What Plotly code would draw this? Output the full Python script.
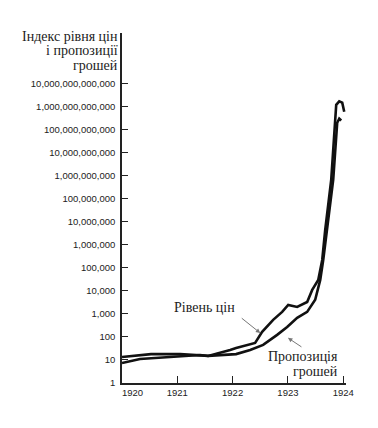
import plotly.graph_objects as go

# Price level index (Рівень цін)
price_years = [1920.0, 1920.525, 1921.05, 1921.557, 1921.955, 1922.063, 1922.407, 1922.534,
               1922.733, 1922.896, 1923.005, 1923.167, 1923.348, 1923.439, 1923.548, 1923.62,
               1923.674, 1923.783, 1923.873, 1923.928, 1923.982, 1924.018]
price_values = [13.5, 18, 18, 15, 27, 33, 55, 166, 550, 1230, 2450, 2000, 3300, 11000, 30000,
                2.2e5, 4.5e6, 6.8e8, 1.2e12, 1.7e12, 1.5e12, 6e11]

# Money supply index (Пропозиція грошей)
money_years = [1920.0, 1920.326, 1920.869, 1921.412, 1921.557, 1922.063, 1922.317, 1922.552,
               1922.805, 1922.986, 1923.167, 1923.348, 1923.493, 1923.584, 1923.638, 1923.71,
               1923.819, 1923.891, 1923.928, 1923.964]
money_values = [7.4, 11, 13.5, 16.5, 15, 18, 27, 45, 123, 270, 680, 1230, 4100, 30000, 2.2e5,
                4.5e6, 6.8e8, 2.0e11, 3.0e11, 2.5e11]

y_tickvals = [10 ** k for k in range(14)]
y_ticktext = [f"{v:,}" for v in y_tickvals]
x_tickvals = [1920, 1921, 1922, 1923, 1924]
x_ticktext = ["\u00a0" * 8 + "1920", "1921", "1922", "1923", "1924"]

title_lines = ["Індекс рівня цін", "і пропозиції", "грошей"]
price_label = "Рівень цін"
money_label_lines = ["Пропозиція", "грошей"]

serif = "Liberation Serif"
sans = "Liberation Sans, Arial, sans-serif"
ink = "#222222"

fig = go.Figure()
fig.add_trace(go.Scatter(x=price_years, y=price_values, mode="lines",
                         line=dict(color="#111111", width=2.6), showlegend=False))
fig.add_trace(go.Scatter(x=money_years, y=money_values, mode="lines",
                         line=dict(color="#111111", width=2.6), showlegend=False))

fig.update_layout(
    width=370, height=420,
    margin=dict(l=114, r=32, t=25, b=45),
    paper_bgcolor="white", plot_bgcolor="white",
    showlegend=False,
)
fig.update_xaxes(
    range=[1920, 1924.05], showgrid=False, zeroline=False,
    showline=True, linecolor=ink, linewidth=1.5,
    ticks="inside", ticklen=7, tickcolor=ink, tickwidth=1.2,
    tickvals=x_tickvals, ticktext=x_ticktext,
    tickfont=dict(family=sans, size=9.5, color=ink),
)
fig.update_yaxes(
    type="log", range=[0, 15.2], showgrid=False, zeroline=False,
    showline=True, linecolor=ink, linewidth=1.5,
    ticks="inside", ticklen=6, tickcolor=ink, tickwidth=1.2,
    tickvals=y_tickvals, ticktext=y_ticktext, ticklabelstandoff=3,
    tickfont=dict(family=sans, size=9.5, color=ink),
)

# Axis title (top-left, right-aligned), one annotation per line
for i, line in enumerate(title_lines):
    fig.add_annotation(text=line, xref="paper", yref="paper", x=0, y=1,
                       xanchor="right", yanchor="middle", xshift=-2, yshift=-3 - 14.5 * i,
                       showarrow=False, font=dict(family=serif, size=14, color=ink))

# Series labels
fig.add_annotation(text=price_label, x=1921.5, y=3.3, xref="x", yref="y",
                   showarrow=False, font=dict(family=serif, size=14, color=ink))
fig.add_annotation(text="", x=1922.50, y=2.17, xref="x", yref="y",
                   showarrow=True, ax=-20, ay=-16, arrowhead=2, arrowsize=0.9,
                   arrowwidth=1, arrowcolor="#777777")
for line, ypos in zip(money_label_lines, [1.13, 0.48]):
    fig.add_annotation(text=line, x=1923.946, y=ypos, xref="x", yref="y",
                       xanchor="right", showarrow=False,
                       font=dict(family=serif, size=14, color=ink))
fig.add_annotation(text="", x=1923.0, y=1.96, xref="x", yref="y",
                   showarrow=True, ax=15, ay=10, arrowhead=2, arrowsize=0.9,
                   arrowwidth=1, arrowcolor="#777777")

fig.write_html("out.html")
